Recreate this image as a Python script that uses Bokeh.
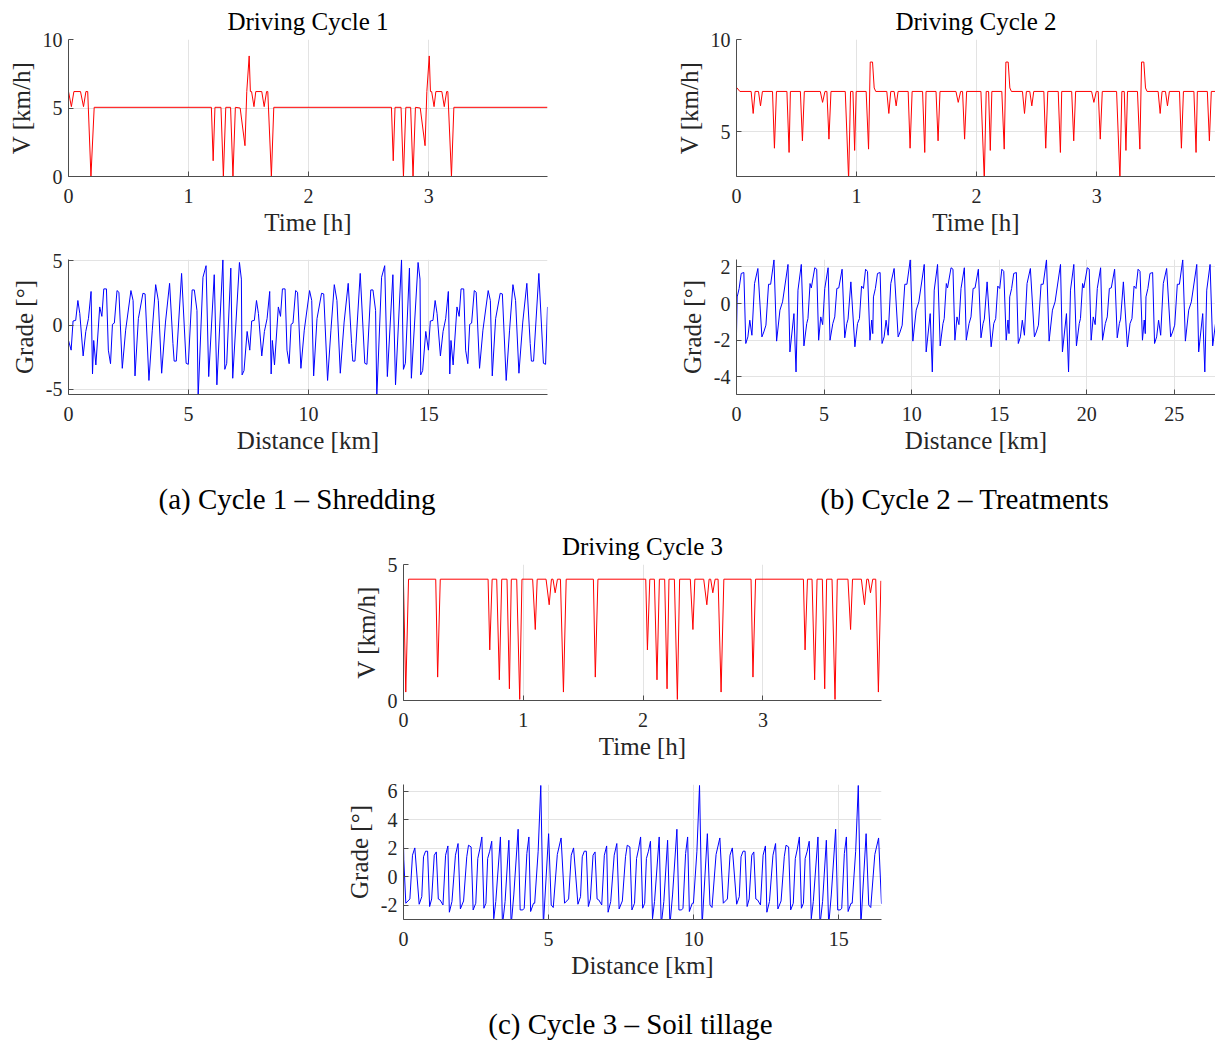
from bokeh.plotting import figure
from bokeh.layouts import column, row, Spacer
from bokeh.models import Range1d, Div
from bokeh.embed import file_html
from bokeh.resources import INLINE

# ---------------- data ----------------
time_ticks = [0, 1, 2, 3]

# Cycle 1 - speed vs time
c1_time = [0.000, 0.024, 0.045, 0.100, 0.125, 0.145, 0.160, 0.187, 0.214,
           1.190, 1.205, 1.220, 1.270, 1.290, 1.310, 1.350, 1.370, 1.390, 1.430,
           1.470, 1.485, 1.505, 1.515, 1.525, 1.545, 1.560, 1.610, 1.630, 1.650, 1.660, 1.690, 1.710,
           2.690, 2.705, 2.720, 2.770, 2.790, 2.810, 2.850, 2.870, 2.890, 2.930,
           2.970, 2.985, 3.005, 3.015, 3.025, 3.045, 3.060, 3.110, 3.130, 3.150, 3.160, 3.190, 3.210, 3.990]
c1_speed = [6.2, 5.1, 6.2, 6.2, 5.1, 6.2, 6.2, 0.0, 5.05,
            5.05, 1.15, 5.05, 5.05, 0.0, 5.05, 5.05, 0.0, 5.05, 5.0,
            2.25, 6.2, 8.8, 6.2, 6.2, 5.1, 6.2, 6.2, 5.1, 6.2, 6.2, 0.0, 5.05,
            5.05, 1.15, 5.05, 5.05, 0.0, 5.05, 5.05, 0.0, 5.05, 5.0,
            2.25, 6.2, 8.8, 6.2, 6.2, 5.1, 6.2, 6.2, 5.1, 6.2, 6.2, 0.0, 5.05, 5.05]

# Cycle 1 - grade vs distance
c1_dist = [0.00, 0.11, 0.19, 0.30, 0.39, 0.47, 0.61, 0.72, 0.83, 0.94, 1.00, 1.05, 1.14, 1.30, 1.39,
           1.47, 1.58, 1.66, 1.75, 1.83, 1.91, 2.02, 2.10, 2.24, 2.38, 2.60, 2.69, 2.77, 2.91, 3.10,
           3.19, 3.35, 3.49, 3.63, 3.74, 3.88, 4.04, 4.21, 4.35, 4.40, 4.49, 4.71, 4.90, 4.99, 5.15,
           5.24, 5.35, 5.40, 5.60, 5.73, 5.84, 6.07, 6.18, 6.43, 6.51, 6.59, 6.76, 6.84, 7.12, 7.20,
           7.23, 7.31, 7.44,
           7.55, 7.63, 7.74, 7.83, 7.91, 8.05, 8.16, 8.27, 8.38, 8.44, 8.49, 8.58, 8.74, 8.83, 8.91,
           9.02, 9.10, 9.19, 9.27, 9.35, 9.46, 9.54, 9.68, 9.82, 10.04, 10.13, 10.21, 10.35, 10.54, 10.63,
           10.79, 10.93, 11.07, 11.18, 11.32, 11.48, 11.65, 11.79, 11.84, 11.93, 12.15, 12.34, 12.43, 12.59, 12.68,
           12.79, 12.84, 13.04, 13.17, 13.28, 13.51, 13.62, 13.87, 13.95, 14.03, 14.20, 14.28, 14.56, 14.64, 14.67,
           14.75, 14.88,
           14.99, 15.07, 15.18, 15.27, 15.35, 15.49, 15.60, 15.71, 15.82, 15.88, 15.93, 16.02, 16.18, 16.27, 16.35,
           16.46, 16.54, 16.63, 16.71, 16.79, 16.90, 16.98, 17.12, 17.26, 17.48, 17.57, 17.65, 17.79, 17.98, 18.07,
           18.23, 18.37, 18.51, 18.62, 18.76, 18.92, 19.09, 19.23, 19.28, 19.37, 19.59, 19.78, 19.87, 19.95]
c1_grade = [-1.2, -1.95, 0.31, 0.36, 1.9, 0.9, -2.4, -0.5, 0.49, 2.6, -3.8, -1.2, -3.1, 1.4, 0.67,
            2.8, 2.8, -1.95, -3.0, 0.05, 0.15, 2.67, 2.54, -3.36, -0.4, 2.67, 1.9, -3.95, 0.49, 2.46,
            2.41, -4.3, -0.4, 3.13, 1.9, -3.74, 0.23, 3.23, -1.44, -2.8, -2.8, 4.0, -2.97, -3.05, 2.72,
            2.72, 1.13, -5.6, 3.7, 4.6, -4.0, 3.9, -4.64, 5.05, -3.44, -2.97, 4.41, -4.13, 4.85, 3.56,
            -3.87, -3.54, -0.5,
            -1.95, 0.31, 0.36, 1.9, 0.9, -2.4, -0.5, 0.49, 2.6, -3.8, -1.2, -3.1, 1.4, 0.67, 2.8,
            2.8, -1.95, -3.0, 0.05, 0.15, 2.67, 2.54, -3.36, -0.4, 2.67, 1.9, -3.95, 0.49, 2.46, 2.41,
            -4.3, -0.4, 3.13, 1.9, -3.74, 0.23, 3.23, -1.44, -2.8, -2.8, 4.0, -2.97, -3.05, 2.72, 2.72,
            1.13, -5.6, 3.7, 4.6, -4.0, 3.9, -4.64, 5.05, -3.44, -2.97, 4.41, -4.13, 4.85, 3.56, -3.87,
            -3.54, -0.5,
            -1.95, 0.31, 0.36, 1.9, 0.9, -2.4, -0.5, 0.49, 2.6, -3.8, -1.2, -3.1, 1.4, 0.67, 2.8,
            2.8, -1.95, -3.0, 0.05, 0.15, 2.67, 2.54, -3.36, -0.4, 2.67, 1.9, -3.95, 0.49, 2.46, 2.41,
            -4.3, -0.4, 3.13, 1.9, -3.74, 0.23, 3.23, -1.44, -2.8, -2.8, 4.0, -2.97, -3.05, 1.4]

# Cycle 2 - speed vs time
c2_time = [0.000, 0.028, 0.122, 0.139, 0.155, 0.183, 0.200, 0.216, 0.300, 0.316, 0.333, 0.420, 0.438, 0.449,
           0.532, 0.549, 0.565, 0.698, 0.717, 0.737, 0.753, 0.770, 0.787, 0.906, 0.934, 0.950, 0.970, 0.984,
           0.997, 1.080, 1.100, 1.114, 1.133, 1.147, 1.160,
           1.252, 1.269, 1.285, 1.313, 1.330, 1.346, 1.430, 1.446, 1.463, 1.550, 1.568, 1.579, 1.662, 1.679,
           1.695, 1.828, 1.847, 1.867, 1.883, 1.900, 1.917, 2.036, 2.064, 2.080, 2.100, 2.114, 2.127, 2.210,
           2.230, 2.244, 2.263, 2.277, 2.290,
           2.382, 2.399, 2.415, 2.443, 2.460, 2.476, 2.560, 2.576, 2.593, 2.680, 2.698, 2.709, 2.792, 2.809,
           2.825, 2.958, 2.977, 2.997, 3.013, 3.030, 3.047, 3.166, 3.194, 3.210, 3.230, 3.244, 3.257, 3.340,
           3.360, 3.374, 3.393, 3.407, 3.420,
           3.512, 3.529, 3.545, 3.573, 3.590, 3.606, 3.690, 3.706, 3.723, 3.810, 3.828, 3.839, 3.922, 3.939,
           3.955, 3.990]
c2_speed = [7.41, 7.19, 7.19, 6.0, 7.19, 7.19, 6.41, 7.19, 7.19, 4.12, 7.19, 7.19, 3.89, 7.19,
            7.19, 4.52, 7.19, 7.19, 6.6, 7.19, 7.19, 4.61, 7.19, 7.19, 2.4, 7.19, 7.19, 4.0,
            7.19, 7.19, 4.07, 8.78, 8.78, 7.38, 7.19,
            7.19, 6.0, 7.19, 7.19, 6.41, 7.19, 7.19, 4.12, 7.19, 7.19, 3.89, 7.19, 7.19, 4.52,
            7.19, 7.19, 6.6, 7.19, 7.19, 4.61, 7.19, 7.19, 2.4, 7.19, 7.19, 4.0, 7.19, 7.19,
            4.07, 8.78, 8.78, 7.38, 7.19,
            7.19, 6.0, 7.19, 7.19, 6.41, 7.19, 7.19, 4.12, 7.19, 7.19, 3.89, 7.19, 7.19, 4.52,
            7.19, 7.19, 6.6, 7.19, 7.19, 4.61, 7.19, 7.19, 2.4, 7.19, 7.19, 4.0, 7.19, 7.19,
            4.07, 8.78, 8.78, 7.38, 7.19,
            7.19, 6.0, 7.19, 7.19, 6.41, 7.19, 7.19, 4.12, 7.19, 7.19, 3.89, 7.19, 7.19, 4.52,
            7.19, 7.19]

# Cycle 2 - grade vs distance
c2_dist = [0.00, 0.04, 0.15, 0.27, 0.42, 0.53, 0.65, 0.76, 0.88, 1.03, 1.22, 1.45, 1.56, 1.68, 1.83,
           1.95, 2.14, 2.29, 2.48, 2.63, 2.94, 3.05, 3.28, 3.40, 3.51, 3.70, 3.85, 4.01, 4.08, 4.20,
           4.27, 4.47, 4.58, 4.69, 4.81, 4.92, 5.04, 5.23, 5.34, 5.50, 5.61, 5.73, 5.84, 6.03, 6.18,
           6.30, 6.37, 6.53, 6.76, 6.91, 7.02, 7.14, 7.25, 7.37, 7.48, 7.62, 7.72,
           7.78, 7.82, 7.93, 8.05, 8.20, 8.31, 8.43, 8.54, 8.66, 8.81, 9.00, 9.23, 9.34, 9.46, 9.61,
           9.73, 9.92, 10.07, 10.26, 10.41, 10.72, 10.83, 11.06, 11.18, 11.29, 11.48, 11.63, 11.79, 11.86, 11.98,
           12.05, 12.25, 12.36, 12.47, 12.59, 12.70, 12.82, 13.01, 13.12, 13.28, 13.39, 13.51, 13.62, 13.81, 13.96,
           14.08, 14.15, 14.31, 14.54, 14.69, 14.80, 14.92, 15.03, 15.15, 15.26, 15.40, 15.50,
           15.56, 15.60, 15.71, 15.83, 15.98, 16.09, 16.21, 16.32, 16.44, 16.59, 16.78, 17.01, 17.12, 17.24, 17.39,
           17.51, 17.70, 17.85, 18.04, 18.19, 18.50, 18.61, 18.84, 18.96, 19.07, 19.26, 19.41, 19.57, 19.64, 19.76,
           19.83, 20.03, 20.14, 20.25, 20.37, 20.48, 20.60, 20.79, 20.90, 21.06, 21.17, 21.29, 21.40, 21.59, 21.74,
           21.86, 21.93, 22.09, 22.32, 22.47, 22.58, 22.70, 22.81, 22.93, 23.04, 23.18, 23.28,
           23.34, 23.38, 23.49, 23.61, 23.76, 23.87, 23.99, 24.10, 24.22, 24.37, 24.56, 24.79, 24.90, 25.02, 25.17,
           25.29, 25.48, 25.63, 25.82, 25.97, 26.28, 26.39, 26.62, 26.74, 26.85, 27.04, 27.19, 27.35]
c2_grade = [-1.64, 0.36, 0.82, 1.64, 1.69, -2.18, -1.82, -0.91, -1.73, 1.09, 1.91, -1.82, -1.55, -1.18, 1.05,
            1.05, 2.38, -2.05, -0.36, 0.09, 2.13, -2.64, -0.55, -3.73, 0.73, 2.13, -2.31, -1.09, -0.82, 1.09,
            0.85, 1.95, 1.87, -2.00, -0.73, -1.15, 0.82, 1.95, -2.00, -1.09, -0.73, 0.82, 0.85, 1.87, -1.87,
            -1.09, -0.85, 1.18, -2.36, -1.09, -0.82, 0.95, 0.82, 1.87, 1.75, -2.00, -0.90,
            -1.64, 0.36, 0.82, 1.64, 1.69, -2.18, -1.82, -0.91, -1.73, 1.09, 1.91, -1.82, -1.55, -1.18, 1.05,
            1.05, 2.38, -2.05, -0.36, 0.09, 2.13, -2.64, -0.55, -3.73, 0.73, 2.13, -2.31, -1.09, -0.82, 1.09,
            0.85, 1.95, 1.87, -2.00, -0.73, -1.15, 0.82, 1.95, -2.00, -1.09, -0.73, 0.82, 0.85, 1.87, -1.87,
            -1.09, -0.85, 1.18, -2.36, -1.09, -0.82, 0.95, 0.82, 1.87, 1.75, -2.00, -0.90,
            -1.64, 0.36, 0.82, 1.64, 1.69, -2.18, -1.82, -0.91, -1.73, 1.09, 1.91, -1.82, -1.55, -1.18, 1.05,
            1.05, 2.38, -2.05, -0.36, 0.09, 2.13, -2.64, -0.55, -3.73, 0.73, 2.13, -2.31, -1.09, -0.82, 1.09,
            0.85, 1.95, 1.87, -2.00, -0.73, -1.15, 0.82, 1.95, -2.00, -1.09, -0.73, 0.82, 0.85, 1.87, -1.87,
            -1.09, -0.85, 1.18, -2.36, -1.09, -0.82, 0.95, 0.82, 1.87, 1.75, -2.00, -0.90,
            -1.64, 0.36, 0.82, 1.64, 1.69, -2.18, -1.82, -0.91, -1.73, 1.09, 1.91, -1.82, -1.55, -1.18, 1.05,
            1.05, 2.38, -2.05, -0.36, 0.09, 2.13, -2.64, -0.55, -3.73, 0.73, 2.13, -2.31, -1.09]

# Cycle 3 - speed vs time
c3_time = [0.000, 0.019, 0.042, 0.269, 0.285, 0.307, 0.706, 0.720, 0.740, 0.778, 0.800, 0.820, 0.864, 0.884,
           0.900, 0.945, 0.970, 0.989, 1.078, 1.100, 1.116, 1.190, 1.216, 1.235, 1.248, 1.266, 1.285, 1.310,
           1.335, 1.358, 1.585, 1.601, 1.623, 2.022, 2.036, 2.056, 2.094, 2.116, 2.136, 2.180, 2.200, 2.216,
           2.261, 2.286, 2.305, 2.394, 2.416, 2.432, 2.506, 2.532, 2.551, 2.564, 2.582, 2.601, 2.626,
           2.651, 2.674, 2.901, 2.917, 2.939, 3.338, 3.352, 3.372, 3.410, 3.432, 3.452, 3.496, 3.516, 3.532,
           3.577, 3.602, 3.621, 3.710, 3.732, 3.748, 3.822, 3.848, 3.867, 3.880, 3.898, 3.917, 3.942, 3.964, 3.985]
c3_speed = [4.3, 0.31, 4.46, 4.46, 0.86, 4.46, 4.46, 1.86, 4.46, 4.46, 0.76, 4.46, 4.46, 0.43,
            4.46, 4.46, 0.04, 4.46, 4.46, 2.61, 4.46, 4.46, 3.52, 4.46, 4.46, 3.96, 4.46, 4.46,
            0.31, 4.46, 4.46, 0.86, 4.46, 4.46, 1.86, 4.46, 4.46, 0.76, 4.46, 4.46, 0.43, 4.46,
            4.46, 0.04, 4.46, 4.46, 2.61, 4.46, 4.46, 3.52, 4.46, 4.46, 3.96, 4.46, 4.46,
            0.31, 4.46, 4.46, 0.86, 4.46, 4.46, 1.86, 4.46, 4.46, 0.76, 4.46, 4.46, 0.43, 4.46,
            4.46, 0.04, 4.46, 4.46, 2.61, 4.46, 4.46, 3.52, 4.46, 4.46, 3.96, 4.46, 4.46, 0.31, 4.4]

# Cycle 3 - grade vs distance
c3_dist = [0.00, 0.01,
           0.08, 0.22, 0.31, 0.39, 0.54, 0.63, 0.69, 0.76, 0.83, 0.90, 0.97, 1.06, 1.13, 1.20, 1.26,
           1.36, 1.45, 1.53, 1.58, 1.67, 1.79, 1.88, 1.96, 2.07, 2.18, 2.24, 2.33, 2.40, 2.49, 2.56,
           2.63, 2.70, 2.77, 2.84, 2.90, 2.97, 3.04, 3.11, 3.18, 3.34, 3.41, 3.50, 3.63, 3.71, 3.80,
           3.95, 4.02, 4.11, 4.16, 4.25, 4.32, 4.38, 4.48, 4.52, 4.64, 4.73, 4.82, 5.00, 5.09, 5.16,
           5.30, 5.43,
           5.55, 5.69, 5.78, 5.86, 6.01, 6.10, 6.16, 6.23, 6.30, 6.37, 6.44, 6.53, 6.60, 6.67, 6.73,
           6.83, 6.92, 7.00, 7.05, 7.14, 7.26, 7.35, 7.43, 7.54, 7.65, 7.71, 7.80, 7.87, 7.96, 8.03,
           8.10, 8.17, 8.24, 8.31, 8.37, 8.44, 8.51, 8.58, 8.65, 8.81, 8.88, 8.97, 9.10, 9.18, 9.27,
           9.42, 9.49, 9.58, 9.63, 9.72, 9.79, 9.85, 9.95, 9.99, 10.11, 10.20, 10.29, 10.47, 10.56, 10.63,
           10.77, 10.90,
           11.02, 11.16, 11.25, 11.33, 11.48, 11.57, 11.63, 11.70, 11.77, 11.84, 11.91, 12.00, 12.07, 12.14, 12.20,
           12.30, 12.39, 12.47, 12.52, 12.61, 12.73, 12.82, 12.90, 13.01, 13.12, 13.18, 13.27, 13.34, 13.43, 13.50,
           13.57, 13.64, 13.71, 13.78, 13.84, 13.91, 13.98, 14.05, 14.12, 14.28, 14.35, 14.44, 14.57, 14.65, 14.74,
           14.89, 14.96, 15.05, 15.10, 15.19, 15.26, 15.32, 15.42, 15.46, 15.58, 15.67, 15.76, 15.94, 16.03, 16.10,
           16.24, 16.37, 16.47]
c3_grade = [2.33, 1.2,
            -1.86, -1.56, 1.51, 2.02, -1.93, -1.40, 1.40, 1.79, 1.79, -2.09, -1.56, 1.51, 1.74, -1.56, -1.63,
            -1.98, 1.51, 2.16, -2.49, -1.74, 1.51, 2.33, -2.26, -1.70, 1.40, 2.21, 2.09, -2.33, -1.86, 1.28,
            1.95, 2.79, -2.21, -1.86, 1.28, 1.79, 2.49, -2.95, -1.74, 2.79, -3.4, -1.74, 2.56, -3.4, -1.28,
            3.33, -2.33, -2.33, -2.21, 1.63, 2.79, -2.44, -1.86, -1.86, 1.79, 6.4, -3.4, 3.02, -1.98, -2.16,
            1.56, 2.72,
            -1.86, -1.56, 1.51, 2.02, -1.93, -1.40, 1.40, 1.79, 1.79, -2.09, -1.56, 1.51, 1.74, -1.56, -1.63,
            -1.98, 1.51, 2.16, -2.49, -1.74, 1.51, 2.33, -2.26, -1.70, 1.40, 2.21, 2.09, -2.33, -1.86, 1.28,
            1.95, 2.79, -2.21, -1.86, 1.28, 1.79, 2.49, -2.95, -1.74, 2.79, -3.4, -1.74, 2.56, -3.4, -1.28,
            3.33, -2.33, -2.33, -2.21, 1.63, 2.79, -2.44, -1.86, -1.86, 1.79, 6.4, -3.4, 3.02, -1.98, -2.16,
            1.56, 2.72,
            -1.86, -1.56, 1.51, 2.02, -1.93, -1.40, 1.40, 1.79, 1.79, -2.09, -1.56, 1.51, 1.74, -1.56, -1.63,
            -1.98, 1.51, 2.16, -2.49, -1.74, 1.51, 2.33, -2.26, -1.70, 1.40, 2.21, 2.09, -2.33, -1.86, 1.28,
            1.95, 2.79, -2.21, -1.86, 1.28, 1.79, 2.49, -2.95, -1.74, 2.79, -3.4, -1.74, 2.56, -3.4, -1.28,
            3.33, -2.33, -2.33, -2.21, 1.63, 2.79, -2.44, -1.86, -1.86, 1.79, 6.4, -3.4, 3.02, -1.98, -2.16,
            1.56, 2.72, -1.9]

titles = ["Driving Cycle 1", "Driving Cycle 2", "Driving Cycle 3"]
captions = ["(a) Cycle 1 \u2013 Shredding", "(b) Cycle 2 \u2013 Treatments", "(c) Cycle 3 \u2013 Soil tillage"]

# ---------------- styling helpers ----------------
FONT = "Liberation Serif"
AXC = "#262626"
RED = "#ff0000"
BLUE = "#0000ff"


def make_fig(width, height, borders, xr, yr, xticks, yticks, xlabel, ylabel, title=None):
    l, r, t, b = borders
    p = figure(width=width, height=height, output_backend="svg", toolbar_location=None,
               x_range=Range1d(*xr), y_range=Range1d(*yr),
               min_border_left=l, min_border_right=r, min_border_top=t, min_border_bottom=b,
               title=None)
    if title:
        p.title = title
        p.title.align = "center"
        p.title.vertical_align = "top"
        p.title.text_font = FONT
        p.title.text_font_size = "25px"
        p.title.text_font_style = "normal"
        p.title.text_color = "#000000"
        p.title.standoff = 6
    p.outline_line_color = None
    p.background_fill_color = "white"
    p.border_fill_color = "white"
    for ax, ticks, lab in ((p.xaxis, xticks, xlabel), (p.yaxis, yticks, ylabel)):
        ax.ticker = ticks
        ax.major_label_overrides = {tk: str(tk) for tk in ticks}
        ax.axis_label = lab
        ax.axis_label_text_font = FONT
        ax.axis_label_text_font_size = "25px"
        ax.axis_label_text_font_style = "normal"
        ax.axis_label_text_color = AXC
        ax.major_label_text_font = FONT
        ax.major_label_text_font_size = "20px"
        ax.major_label_text_color = AXC
        ax.axis_line_color = "#4d4d4d"
        ax.major_tick_line_color = "#4d4d4d"
        ax.major_tick_in = 5
        ax.major_tick_out = 0
        ax.minor_tick_line_color = None
    p.xaxis.major_label_standoff = 12
    p.xaxis.axis_label_standoff = 3
    p.yaxis.major_label_standoff = 6
    p.yaxis.axis_label_standoff = 5
    p.grid.grid_line_color = "#e3e3e3"
    p.grid.grid_line_width = 1
    return p


def caption(text, w, h, pad):
    html = ('<div style="width:%dpx;text-align:center;font-family:\'Liberation Serif\';'
            'font-size:29px;line-height:31px;color:#000;padding-top:%dpx;white-space:nowrap;">%s</div>'
            % (w, pad, text))
    return Div(text=html, width=w, height=h, margin=(0, 0, 0, 0))


# ---------------- figures ----------------
a1 = make_fig(670, 248, (68, 123, 39, 72), (0, 3.99), (0, 10), time_ticks, [0, 5, 10],
              "Time [h]", "V [km/h]", titles[0])
a1.line(c1_time, c1_speed, line_color=RED, line_width=1)

a2 = make_fig(670, 216, (68, 123, 11, 70), (0, 19.95), (-5.39, 5.08), [0, 5, 10, 15], [-5, 0, 5],
              "Distance [km]", "Grade [°]")
a2.line(c1_dist, c1_grade, line_color=BLUE, line_width=1)

b1 = make_fig(545, 248, (66, 0, 39, 72), (0, 3.99), (2.59, 10), time_ticks, [5, 10],
              "Time [h]", "V [km/h]", titles[1])
b1.line(c2_time, c2_speed, line_color=RED, line_width=1)

b2 = make_fig(545, 216, (66, 0, 11, 70), (0, 27.35), (-4.96, 2.40), [0, 5, 10, 15, 20, 25], [-4, -2, 0, 2],
              "Distance [km]", "Grade [°]")
b2.line(c2_dist, c2_grade, line_color=BLUE, line_width=1)

c1 = make_fig(559, 247, (60, 20, 39, 72), (0, 3.99), (0, 5), time_ticks, [0, 5],
              "Time [h]", "V [km/h]", titles[2])
c1.line(c3_time, c3_speed, line_color=RED, line_width=1)

c2 = make_fig(559, 219, (60, 20, 12, 72), (0, 16.47), (-3.0, 6.47), [0, 5, 10, 15], [-2, 0, 2, 4, 6],
              "Distance [km]", "Grade [°]")
c2.line(c3_dist, c3_grade, line_color=BLUE, line_width=1)

top = row(column(a1, a2), column(b1, b2))
caps_ab = row(caption(captions[0], 594, 61, 20), Spacer(width=127, height=61), caption(captions[1], 487, 61, 20))
mid = row(Spacer(width=342, height=466), column(c1, c2))
cap_c = row(Spacer(width=338, height=49), caption(captions[2], 585, 49, 18))

layout = column(top, caps_ab, mid, cap_c)

open("out.html", "w").write(file_html(layout, INLINE))
